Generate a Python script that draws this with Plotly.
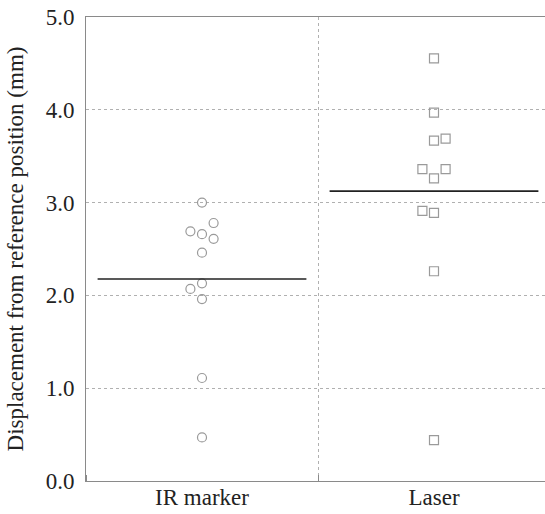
import plotly.graph_objects as go
import numpy as np

categories = ["IR marker", "Laser"]
ir_values = [3.00, 2.78, 2.69, 2.66, 2.61, 2.46, 2.13, 2.07, 1.96, 1.11, 0.47]
ir_jitter = [0, 1, -1, 0, 1, 0, 0, -1, 0, 0, 0]
laser_values = [4.555, 3.97, 3.667, 3.69, 3.36, 3.36, 3.26, 2.91, 2.89, 2.26, 0.44]
laser_jitter = [0, 0, 0, 1, -1, 1, 0, -1, 0, 0, 0]
y_ticks = [0, 1, 2, 3, 4, 5]

JIT = 0.05
HALF = 0.45
FONT = "Liberation Serif, Times New Roman, serif"
PT_COLOR = "#9a9a9a"

fig = go.Figure()
groups = [(ir_values, ir_jitter, "circle-open"), (laser_values, laser_jitter, "square-open")]
for i, (vals, jit, sym) in enumerate(groups):
    xs = [i + j * JIT for j in jit]
    fig.add_trace(go.Scatter(
        x=xs, y=vals, mode="markers",
        marker=dict(symbol=sym, size=9, color=PT_COLOR, line=dict(width=1.2, color=PT_COLOR)),
        showlegend=False, hoverinfo="skip"))
    m = float(np.mean(vals))
    fig.add_trace(go.Scatter(
        x=[i - HALF, i + HALF], y=[m, m], mode="lines",
        line=dict(color="#222222", width=1.6),
        showlegend=False, hoverinfo="skip"))

fig.update_layout(
    width=545, height=514,
    margin=dict(l=86, r=0, t=17, b=33, autoexpand=False),
    paper_bgcolor="white", plot_bgcolor="white",
    font=dict(family=FONT, size=23, color="#222222"),
)
fig.update_xaxes(
    range=[-0.5, -0.5 + 459 / 232],
    tickmode="array", tickvals=[0, 1], ticktext=categories,
    showgrid=False, zeroline=False, ticks="",
    showline=True, linecolor="#8a8a8a", linewidth=1, mirror=True,
    tickfont=dict(family=FONT, size=23, color="#222222"),
    ticklabelstandoff=-5,
    minor=dict(tick0=0.5, dtick=1, ticks="inside", ticklen=6, tickcolor="#8a8a8a",
               showgrid=True, gridcolor="#b0b0b0", griddash="dot", gridwidth=1),
)
fig.update_yaxes(
    range=[0, 5],
    tickmode="array", tickvals=y_ticks, ticktext=[f"{v:.1f}" for v in y_ticks],
    showgrid=True, gridcolor="#b0b0b0", griddash="dot", gridwidth=1,
    zeroline=False, ticks="",
    showline=True, linecolor="#8a8a8a", linewidth=1,
    tickfont=dict(family=FONT, size=23, color="#222222"),
    ticklabelstandoff=6,
    title=dict(text="Displacement from reference position (mm)",
               font=dict(family=FONT, size=23, color="#222222"), standoff=15),
)

fig.write_html("out.html", config={"displayModeBar": False},
               post_script="document.body.style.margin='0';")
